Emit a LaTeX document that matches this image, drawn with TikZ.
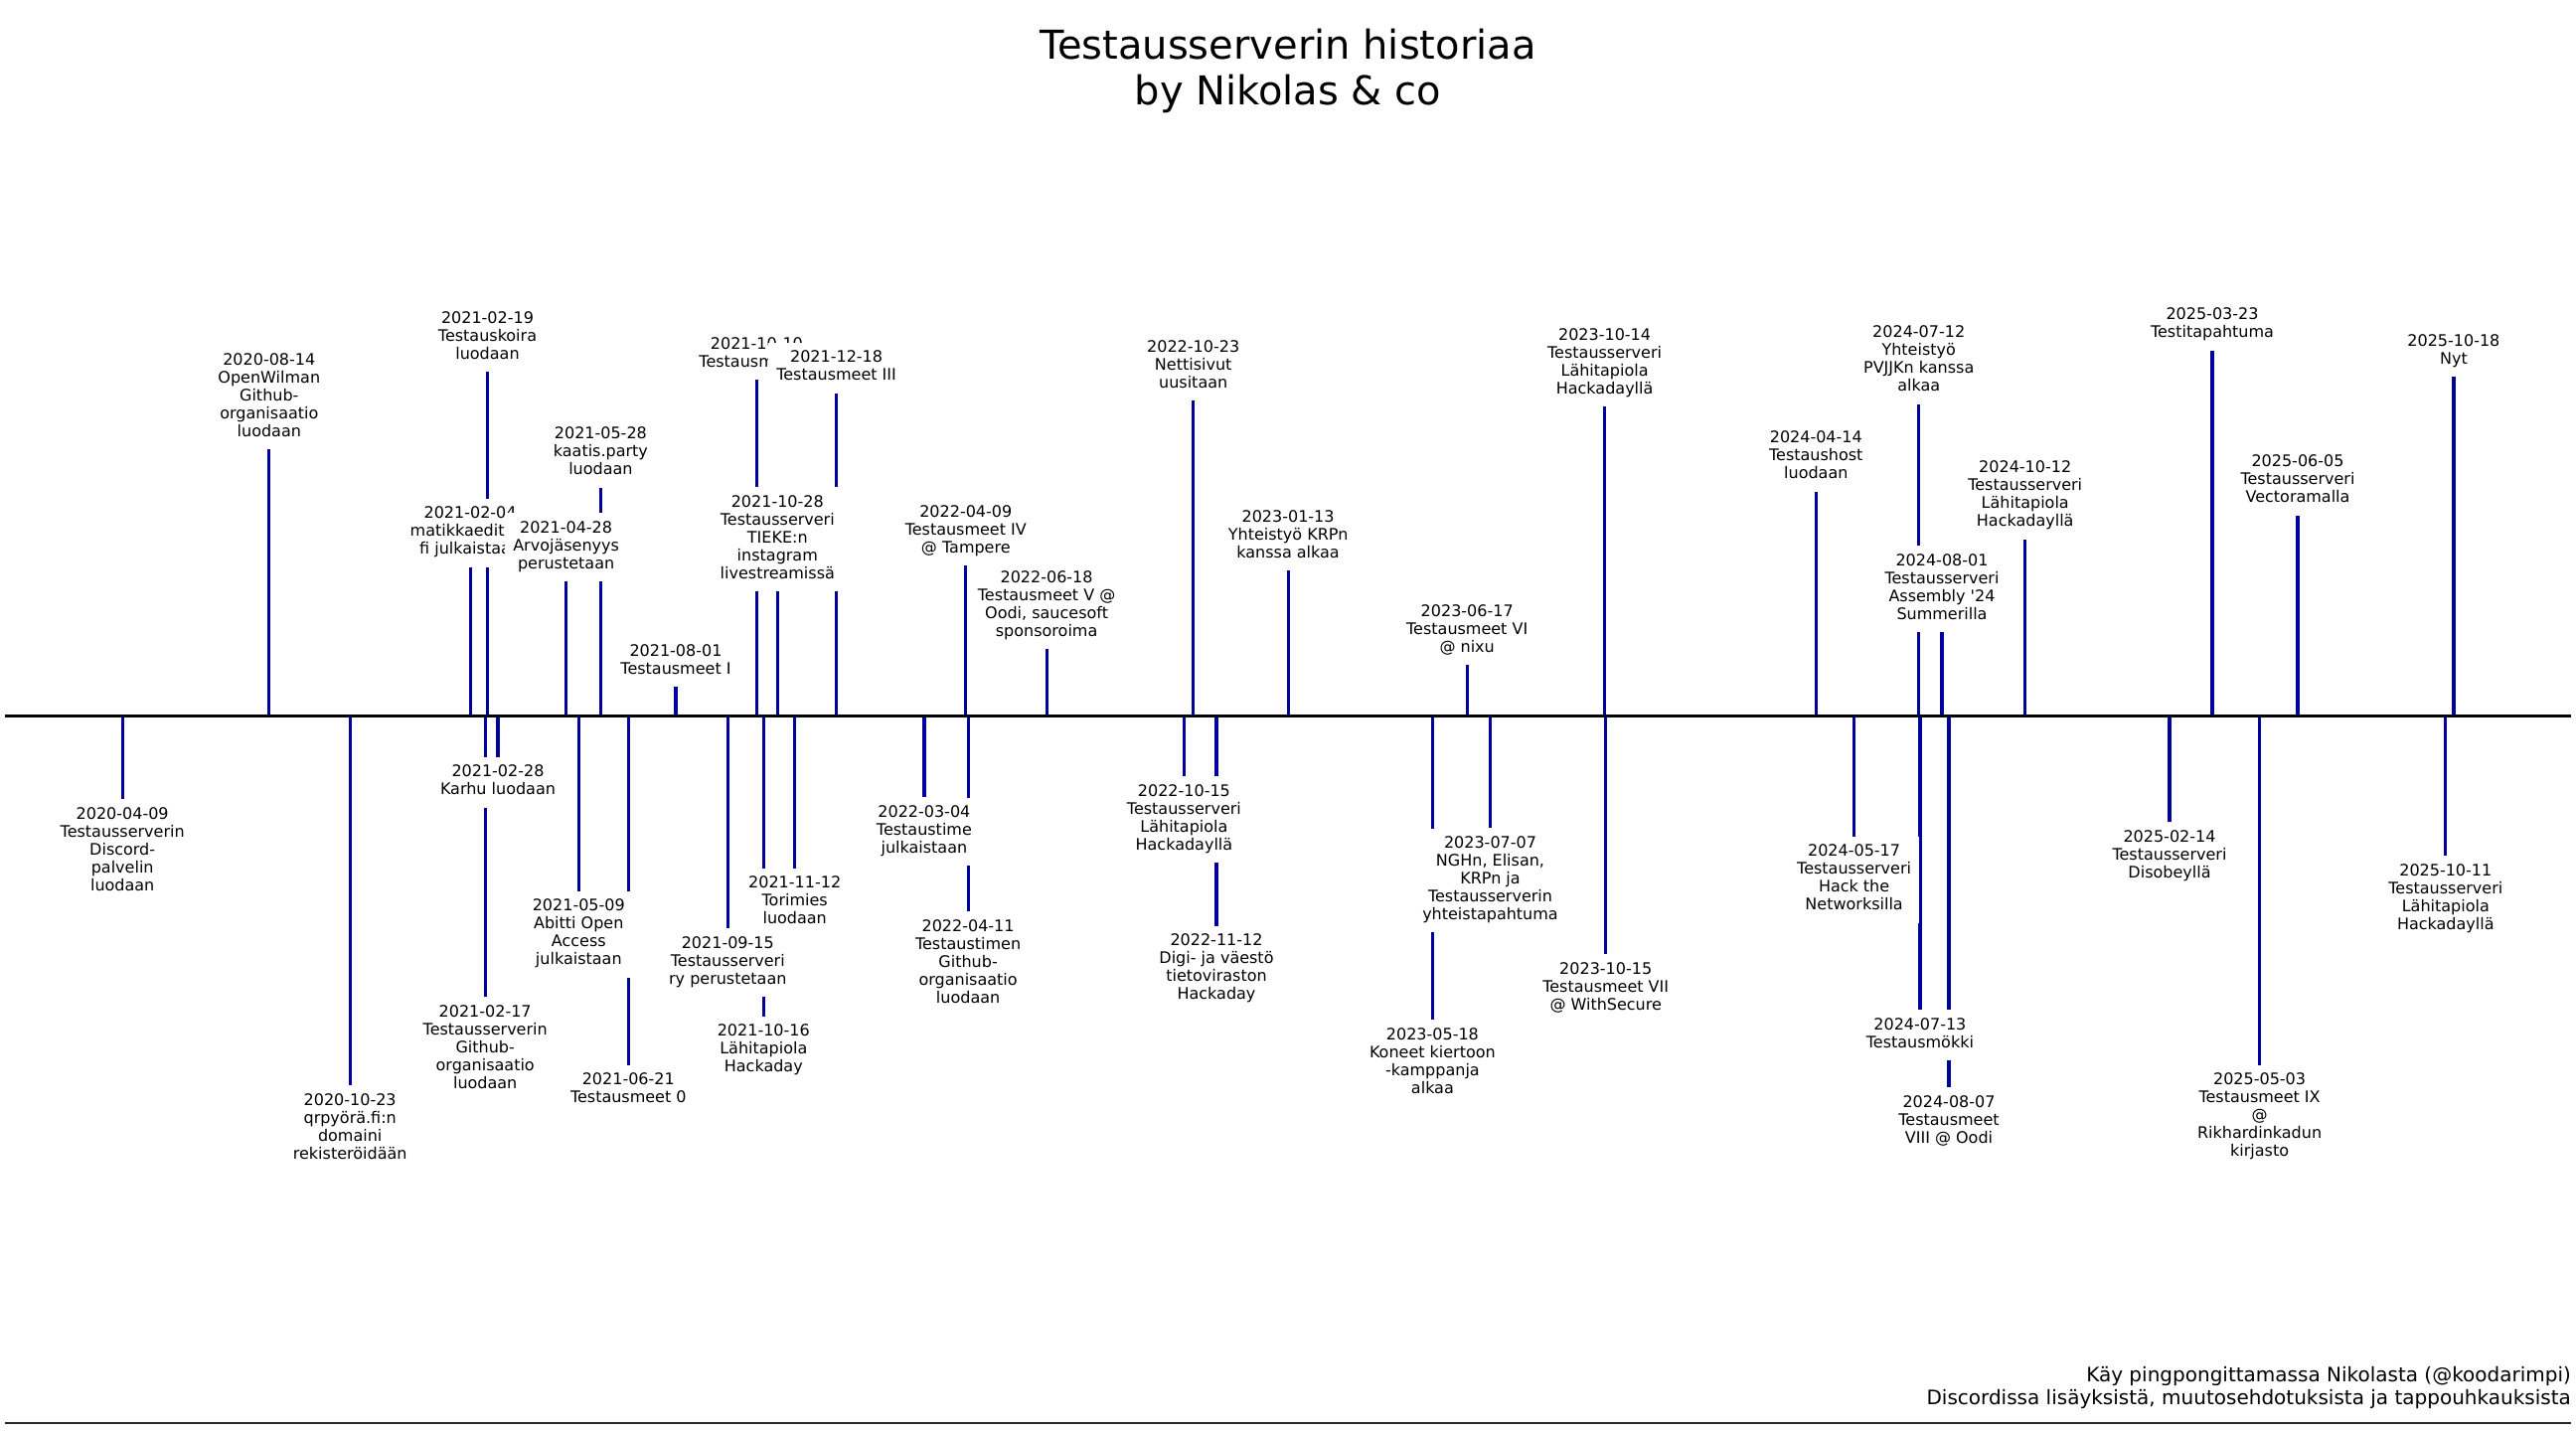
\documentclass[tikz,border=0pt]{standalone}
\usepackage{fontspec}
\setmainfont{DejaVu Sans}[Ligatures=TeXOff]
\usetikzlibrary{backgrounds}
\definecolor{stemblue}{HTML}{00009C}
\newcommand\lstrut{\rule[-4.8pt]{0pt}{18pt}}
\begin{document}
\begin{tikzpicture}[x=1pt, y=-1pt,
    lbl/.style={fill=white, inner sep=8pt, align=center,
      font=\fontsize{16}{18}\selectfont,
      execute at begin node=\lstrut, execute at end node=\lstrut},
    evup/.style={lbl, anchor=south},
    evdown/.style={lbl, anchor=north},
    stem/.style={draw=stemblue, line width=3.2pt}]
    \useasboundingbox (0,0) rectangle (2592,1440);

    \node[align=center, inner sep=0pt, anchor=north, font=\fontsize{40}{46.7}\selectfont] (title) at (1296,28.6) {Testausserverin historiaa\\by Nikolas \& co};

    \coordinate (axl) at (5,720);
    \coordinate (axr) at (2587,720);
    \draw[line width=3pt] (axl) -- (axr);

    \node[evdown] (e1) at (123.2,804) {2020-04-09\\Testausserverin\\Discord-\\palvelin\\luodaan};
    \node[evup] (e2) at (270.8,452.3) {2020-08-14\\OpenWilman\\Github-\\organisaatio\\luodaan};
    \node[evdown] (e3) at (352.2,1092) {2020-10-23\\qrpyörä.fi:n\\domaini\\rekisteröidään};
    \node[evup] (e4) at (473.1,570.7) {2021-02-04\\matikkaeditori.\\fi julkaistaan};
    \node[evdown] (e5) at (488.2,1003.3) {2021-02-17\\Testausserverin\\Github-\\organisaatio\\luodaan};
    \node[evup] (e6) at (490.5,374) {2021-02-19\\Testauskoira\\luodaan};
    \node[evdown] (e7) at (501.0,761.7) {2021-02-28\\Karhu luodaan};
    \node[evup] (e8) at (569.6,585.3) {2021-04-28\\Arvojäsenyys\\perustetaan};
    \node[evdown] (e9) at (582.3,896.7) {2021-05-09\\Abitti Open\\Access\\julkaistaan};
    \node[evup] (e10) at (604.4,490.7) {2021-05-28\\kaatis.party\\luodaan};
    \node[evdown] (e11) at (632.3,1071.7) {2021-06-21\\Testausmeet 0};
    \node[evup] (e12) at (680.0,691.3) {2021-08-01\\Testausmeet I};
    \node[evdown] (e13) at (732.3,934.3) {2021-09-15\\Testausserveri\\ry perustetaan};
    \node[evup] (e14) at (761.4,382.3) {2021-10-10\\Testausmeet II};
    \node[evdown] (e15) at (768.3,1022.7) {2021-10-16\\Lähitapiola\\Hackaday};
    \node[evup] (e16) at (782.3,595.3) {2021-10-28\\Testausserveri\\TIEKE:n\\instagram\\livestreamissä};
    \node[evdown] (e17) at (799.7,873.5) {2021-11-12\\Torimies\\luodaan};
    \node[evup] (e18) at (841.6,395.7) {2021-12-18\\Testausmeet III};
    \node[evdown] (e19) at (929.9,802.3) {2022-03-04\\Testaustime\\julkaistaan};
    \node[evup] (e20) at (971.8,569.3) {2022-04-09\\Testausmeet IV\\@ Tampere};
    \node[evdown] (e21) at (974.1,917) {2022-04-11\\Testaustimen\\Github-\\organisaatio\\luodaan};
    \node[evup] (e22) at (1053.1,653.3) {2022-06-18\\Testausmeet V @\\Oodi, saucesoft\\sponsoroima};
    \node[evdown] (e23) at (1191.4,781) {2022-10-15\\Testausserveri\\Lähitapiola\\Hackadayllä};
    \node[evup] (e24) at (1200.7,403.3) {2022-10-23\\Nettisivut\\uusitaan};
    \node[evdown] (e25) at (1224.0,931.7) {2022-11-12\\Digi- ja väestö\\tietoviraston\\Hackaday};
    \node[evup] (e26) at (1296.1,574.3) {2023-01-13\\Yhteistyö KRPn\\kanssa alkaa};
    \node[evdown] (e27) at (1441.4,1026) {2023-05-18\\Koneet kiertoon\\-kamppanja\\alkaa};
    \node[evup] (e28) at (1476.2,669) {2023-06-17\\Testausmeet VI\\@ nixu};
    \node[evdown] (e29) at (1499.5,833.3) {2023-07-07\\NGHn, Elisan,\\KRPn ja\\Testausserverin\\yhteistapahtuma};
    \node[evup] (e30) at (1614.6,409.3) {2023-10-14\\Testausserveri\\Lähitapiola\\Hackadayllä};
    \node[evdown] (e31) at (1615.7,960) {2023-10-15\\Testausmeet VII\\@ WithSecure};
    \node[evup] (e32) at (1827.3,494.7) {2024-04-14\\Testaushost\\luodaan};
    \node[evdown] (e33) at (1865.6,841.7) {2024-05-17\\Testausserveri\\Hack the\\Networksilla};
    \node[evup] (e34) at (1930.7,406.7) {2024-07-12\\Yhteistyö\\PVJJKn kanssa\\alkaa};
    \node[evdown] (e35) at (1931.9,1016) {2024-07-13\\Testausmökki};
    \node[evup] (e36) at (1954.0,636) {2024-08-01\\Testausserveri\\Assembly '24\\Summerilla};
    \node[evdown] (e37) at (1961.0,1094.3) {2024-08-07\\Testausmeet\\VIII @ Oodi};
    \node[evup] (e38) at (2037.7,542.7) {2024-10-12\\Testausserveri\\Lähitapiola\\Hackadayllä};
    \node[evdown] (e39) at (2183.0,827.3) {2025-02-14\\Testausserveri\\Disobeyllä};
    \node[evup] (e40) at (2226.0,352.7) {2025-03-23\\Testitapahtuma};
    \node[evdown] (e41) at (2273.6,1071.7) {2025-05-03\\Testausmeet IX\\@\\Rikhardinkadun\\kirjasto};
    \node[evup] (e42) at (2312.0,518.7) {2025-06-05\\Testausserveri\\Vectoramalla};
    \node[evdown] (e43) at (2460.8,861.3) {2025-10-11\\Testausserveri\\Lähitapiola\\Hackadayllä};
    \node[evup] (e44) at (2468.9,379.3) {2025-10-18\\Nyt};

    % stems go behind the labels
    \begin{scope}[on background layer]
        \draw[stem] (e1.north) -- (e1.north |- axl);
        \draw[stem] (e2.south) -- (e2.south |- axl);
        \draw[stem] (e3.north) -- (e3.north |- axl);
        \draw[stem] (e4.south) -- (e4.south |- axl);
        \draw[stem] (e5.north) -- (e5.north |- axl);
        \draw[stem] (e6.south) -- (e6.south |- axl);
        \draw[stem] (e7.north) -- (e7.north |- axl);
        \draw[stem] (e8.south) -- (e8.south |- axl);
        \draw[stem] (e9.north) -- (e9.north |- axl);
        \draw[stem] (e10.south) -- (e10.south |- axl);
        \draw[stem] (e11.north) -- (e11.north |- axl);
        \draw[stem] (e12.south) -- (e12.south |- axl);
        \draw[stem] (e13.north) -- (e13.north |- axl);
        \draw[stem] (e14.south) -- (e14.south |- axl);
        \draw[stem] (e15.north) -- (e15.north |- axl);
        \draw[stem] (e16.south) -- (e16.south |- axl);
        \draw[stem] (e17.north) -- (e17.north |- axl);
        \draw[stem] (e18.south) -- (e18.south |- axl);
        \draw[stem] (e19.north) -- (e19.north |- axl);
        \draw[stem] (e20.south) -- (e20.south |- axl);
        \draw[stem] (e21.north) -- (e21.north |- axl);
        \draw[stem] (e22.south) -- (e22.south |- axl);
        \draw[stem] (e23.north) -- (e23.north |- axl);
        \draw[stem] (e24.south) -- (e24.south |- axl);
        \draw[stem] (e25.north) -- (e25.north |- axl);
        \draw[stem] (e26.south) -- (e26.south |- axl);
        \draw[stem] (e27.north) -- (e27.north |- axl);
        \draw[stem] (e28.south) -- (e28.south |- axl);
        \draw[stem] (e29.north) -- (e29.north |- axl);
        \draw[stem] (e30.south) -- (e30.south |- axl);
        \draw[stem] (e31.north) -- (e31.north |- axl);
        \draw[stem] (e32.south) -- (e32.south |- axl);
        \draw[stem] (e33.north) -- (e33.north |- axl);
        \draw[stem] (e34.south) -- (e34.south |- axl);
        \draw[stem] (e35.north) -- (e35.north |- axl);
        \draw[stem] (e36.south) -- (e36.south |- axl);
        \draw[stem] (e37.north) -- (e37.north |- axl);
        \draw[stem] (e38.south) -- (e38.south |- axl);
        \draw[stem] (e39.north) -- (e39.north |- axl);
        \draw[stem] (e40.south) -- (e40.south |- axl);
        \draw[stem] (e41.north) -- (e41.north |- axl);
        \draw[stem] (e42.south) -- (e42.south |- axl);
        \draw[stem] (e43.north) -- (e43.north |- axl);
        \draw[stem] (e44.south) -- (e44.south |- axl);
    \end{scope}

    \node[align=right, inner sep=0pt, anchor=north east, font=\fontsize{20}{23}\selectfont] (footer) at (2587,1375.4) {Käy pingpongittamassa Nikolasta (@koodarimpi)\\Discordissa lisäyksistä, muutosehdotuksista ja tappouhkauksista};
    \coordinate (rulel) at (5,1432);
    \coordinate (ruler) at (2587,1432);
    \draw[line width=2pt, black!85] (rulel) -- (ruler);
\end{tikzpicture}
\end{document}
